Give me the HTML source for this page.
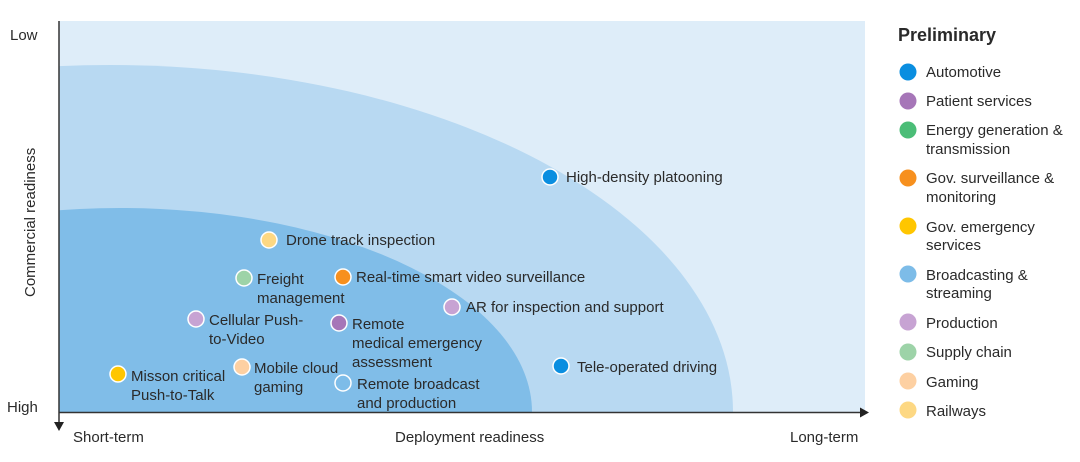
<!DOCTYPE html>
<html><head><meta charset="utf-8"><style>
html,body{margin:0;padding:0;background:#fff;width:1080px;height:462px;overflow:hidden;}
svg{display:block;}
svg text{font-family:"Liberation Sans",sans-serif;fill:#2a2a2a;font-size:15px;}
</style></head><body>
<svg width="1080" height="462" viewBox="0 0 1080 462" xmlns="http://www.w3.org/2000/svg">
<defs><clipPath id="c"><rect x="59" y="21" width="806" height="391"/></clipPath></defs>
<rect x="59" y="21" width="806" height="391" fill="#deedf9"/>
<g clip-path="url(#c)">
<ellipse cx="110" cy="412" rx="623" ry="347" fill="#b8d9f2"/>
<ellipse cx="120" cy="412" rx="412" ry="204" fill="#80bde8"/>
</g>
<line x1="59" y1="21" x2="59" y2="424" stroke="#333" stroke-width="1.5"/>
<polygon points="54,422 64,422 59,431" fill="#222"/>
<line x1="59" y1="412.5" x2="862" y2="412.5" stroke="#333" stroke-width="1.5"/>
<polygon points="860,407.5 860,417.5 869,412.5" fill="#222"/>
<text x="10" y="40">Low</text>
<text x="7" y="412">High</text>
<text transform="translate(35,297) rotate(-90)">Commercial readiness</text>
<text x="73" y="442">Short-term</text>
<text x="395" y="442">Deployment readiness</text>
<text x="790" y="442">Long-term</text>
<g stroke="#fff" stroke-width="1.5">
<circle cx="550" cy="177" r="8" fill="#0a8ee0"/>
<circle cx="269" cy="240" r="8" fill="#fdd883"/>
<circle cx="244" cy="278" r="8" fill="#9dd3a8"/>
<circle cx="343" cy="277" r="8" fill="#f7901e"/>
<circle cx="452" cy="307" r="8" fill="#c7a3d3"/>
<circle cx="196" cy="319" r="8" fill="#c7a3d3"/>
<circle cx="339" cy="323" r="8" fill="#a676b8"/>
<circle cx="561" cy="366" r="8" fill="#0a8ee0"/>
<circle cx="118" cy="374" r="8" fill="#ffc600"/>
<circle cx="242" cy="367" r="8" fill="#fdd0a2"/>
<circle cx="343" cy="383" r="8" fill="#7dbce8"/>
</g>
<text x="566" y="182">High-density platooning</text>
<text x="286" y="245">Drone track inspection</text>
<text x="257" y="284">Freight</text><text x="257" y="303">management</text>
<text x="356" y="282">Real-time smart video surveillance</text>
<text x="466" y="312">AR for inspection and support</text>
<text x="209" y="325">Cellular Push-</text><text x="209" y="344">to-Video</text>
<text x="352" y="329">Remote</text><text x="352" y="348">medical emergency</text><text x="352" y="367">assessment</text>
<text x="577" y="372">Tele-operated driving</text>
<text x="131" y="381">Misson critical</text><text x="131" y="400">Push-to-Talk</text>
<text x="254" y="373">Mobile cloud</text><text x="254" y="392">gaming</text>
<text x="357" y="389">Remote broadcast</text><text x="357" y="408">and production</text>
<text x="898" y="41" style="font-size:18px;font-weight:bold">Preliminary</text>
<circle cx="908" cy="72" r="8.5" fill="#0a8ee0"/><text x="926" y="77">Automotive</text>
<circle cx="908" cy="101" r="8.5" fill="#a676b8"/><text x="926" y="106">Patient services</text>
<circle cx="908" cy="130" r="8.5" fill="#4bbd77"/><text x="926" y="135">Energy generation &amp;</text><text x="926" y="154">transmission</text>
<circle cx="908" cy="178" r="8.5" fill="#f7901e"/><text x="926" y="183">Gov. surveillance &amp;</text><text x="926" y="202">monitoring</text>
<circle cx="908" cy="226" r="8.5" fill="#ffc600"/><text x="926" y="232">Gov. emergency</text><text x="926" y="250">services</text>
<circle cx="908" cy="274" r="8.5" fill="#7dbce8"/><text x="926" y="280">Broadcasting &amp;</text><text x="926" y="298">streaming</text>
<circle cx="908" cy="322" r="8.5" fill="#c7a3d3"/><text x="926" y="328">Production</text>
<circle cx="908" cy="352" r="8.5" fill="#9dd3a8"/><text x="926" y="357">Supply chain</text>
<circle cx="908" cy="381" r="8.5" fill="#fdd0a2"/><text x="926" y="387">Gaming</text>
<circle cx="908" cy="410" r="8.5" fill="#fdd883"/><text x="926" y="416">Railways</text>
</svg>
</body></html>
